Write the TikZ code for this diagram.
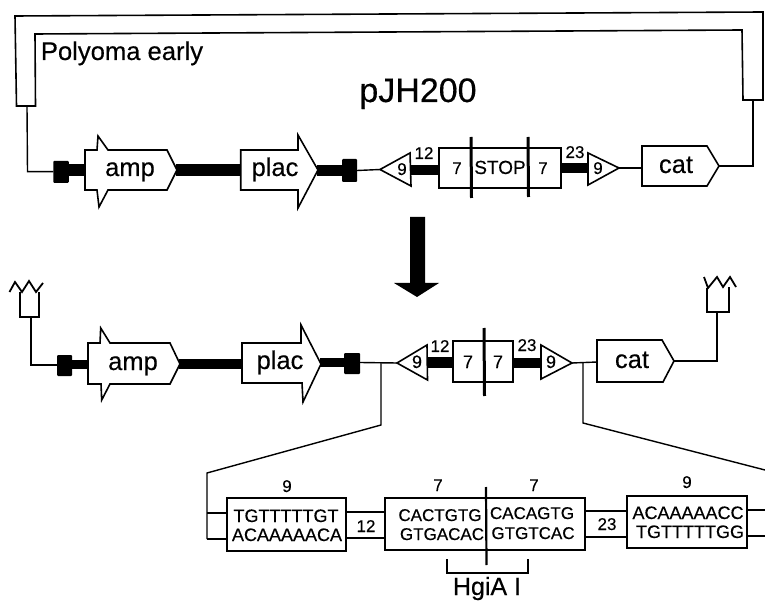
\documentclass[tikz,border=0pt]{standalone}
\usepackage{fontspec}
\setmainfont[FakeBold=0.35]{Liberation Sans}
\newcommand{\lab}[5]{\node[txt,font=\fontsize{#4}{#4}\selectfont] (#1) at (#2,#3) {#5};}
\tikzset{
  line/.style={line width=1.4pt,line join=miter},
  shp/.style={line width=1.6pt,fill=white,line join=miter},
  bar/.style={line width=#1,black},
  cut/.style={line width=3pt},
  txt/.style={anchor=base,inner sep=0pt,outer sep=0pt,text=black},
  bx/.style={draw,fill=white,line width=1.6pt,inner sep=0pt,outer sep=0pt},
  sq/.style={draw=none,fill=black,inner sep=0pt,outer sep=0pt,rounded corners=1pt},
}
\begin{document}
\begin{tikzpicture}[x=1pt,y=-1pt]
\useasboundingbox (0,0) rectangle (765,601);
% --- named ends
\coordinate (pyL) at (27,106); \coordinate (pyLd) at (27.5,171.7);
\coordinate (pyR) at (753,100); \coordinate (catTr) at (753,166);
\coordinate (a1w) at (86,170.5); \coordinate (a1e) at (176,169.6);
\coordinate (p1w) at (241,169.6); \coordinate (p1e) at (317,170.5);
\coordinate (t1a) at (380,169.5); \coordinate (t1b) at (410,170);
\coordinate (t2a) at (588,168); \coordinate (t2b) at (619,168);
\coordinate (c1w) at (642,168); \coordinate (c1e) at (719,166);
\coordinate (a2w) at (89,364.5); \coordinate (a2e) at (179,364);
\coordinate (p2w) at (243,364); \coordinate (p2e) at (320,362.5);
\coordinate (t3a) at (397,363); \coordinate (t3b) at (427,362.5);
\coordinate (t4a) at (541,363); \coordinate (t4b) at (572,363);
\coordinate (c2w) at (597,362); \coordinate (c2e) at (674,361);
\coordinate (crL) at (31,317); \coordinate (crLd) at (31,365);
\coordinate (crR) at (717,312); \coordinate (crRd) at (717,361);
\coordinate (dl0) at (381,363); \coordinate (dl1) at (381,425); \coordinate (dl2) at (207,473);
\coordinate (dlb1) at (207,513); \coordinate (dlb2) at (207,539);
\coordinate (dr0) at (583,362); \coordinate (dr1) at (583,423); \coordinate (dr2) at (765,470);
\coordinate (er1) at (765,510); \coordinate (er2) at (765,536);
% --- boxes and squares
\node[sq,minimum width=15.5pt,minimum height=22pt] (s1) at (61,172) {};
\node[sq,minimum width=15pt,minimum height=23pt] (s2) at (349.5,170.5) {};
\node[sq,minimum width=15pt,minimum height=21pt] (s3) at (64.5,365.5) {};
\node[sq,minimum width=16pt,minimum height=21pt] (s4) at (352,363.5) {};
% --- thick bars
\draw[bar=12pt] (s1.center |- a1w) -- (a1w);
\draw[bar=12pt] (a1e) -- (p1w);
\draw[bar=11pt] (p1e) -- (s2.center |- p1e);
\draw[bar=9pt] (s3.center |- a2w) -- (a2w);
\draw[bar=10pt] (a2e) -- (p2w);
\draw[bar=9pt] (p2e) -- (s4.center |- p2e);
% --- thin connectors
\draw[line] (pyL) -- (pyLd) -- (s1.west |- pyLd);
\draw[line] (s2.east |- p1e) -- (t1a);
\draw[line] (t2b) -- (c1w);
\draw[line] (c1e) -- (catTr) -- (pyR);
\draw[line] (crL) -- (crLd) -- (s3.west |- crLd);
\draw[line] (s4.east |- p2e) -- (t3a);
\draw[line] (dl0) -- (dl1) -- (dl2) -- (dlb2);
\draw[line] (t4b) -- (c2w);
\draw[line] (dr0) -- (dr1) -- (dr2);
\draw[line] (c2e) -- (crRd) -- (crR);
% --- Polyoma early bracket
\draw[shp,fill=none] (16.5,106) -- (15,16) -- (763,12) -- (763,100) -- (743,100) -- (742,30) -- (35,34) -- (35.5,106) -- cycle;
% --- top row shapes
\draw[shp] (85,150) -- (97,150) -- (98,136) -- (108,150) -- (167,150) -- (177,170) -- (167,190) -- (108,190) -- (99,207) -- (97,190) -- (85,190) -- cycle;
\draw[shp] (240.7,150) -- (298,150) -- (298,135) -- (318,170) -- (298,208) -- (298,190) -- (240.7,190) -- cycle;
\draw[shp] (t1a) -- (410,153) -- (411,186) -- cycle;
\draw[shp] (t2a |- 0,153) -- (t2b) -- (t2a |- 0,185) -- cycle;
\draw[shp] (642,146) -- (707,146) -- (719,166) -- (707,186) -- (642,186) -- cycle;
% --- second row shapes
\draw[shp] (88,343) -- (100,343) -- (100.7,328) -- (110,343) -- (170,343) -- (180,364) -- (170,384) -- (110,384) -- (101.7,400) -- (101,384) -- (88,384) -- cycle;
\draw[shp] (242,343) -- (301,343) -- (301,325) -- (321,364) -- (303,402) -- (302,383) -- (242,383) -- cycle;
\draw[shp] (t3a) -- (427,345) -- (427.5,380) -- cycle;
\draw[shp] (t4a |- 0,345) -- (t4b) -- (t4a |- 0,379) -- cycle;
\draw[shp] (597,340) -- (662,340) -- (674,361) -- (663,382) -- (597,382) -- cycle;
% --- central boxes
\node[bx,minimum width=122pt,minimum height=40pt] (stopbox) at (500,168) {};
\node[bx,minimum width=60pt,minimum height=41pt] (sevens) at (483,361.5) {};
\draw[bar=10pt] (t1b) -- (stopbox.west |- t1b);
\draw[bar=10pt] (stopbox.east |- t2a) -- (t2a);
\draw[bar=11pt] (t3b) -- (sevens.west |- t3b);
\draw[bar=10pt] (sevens.east |- t4a) -- (t4a);
\draw[cut] (471,137) -- (471.5,198);
\draw[cut] (528,137) -- (528.5,197);
\draw[cut] (484,328) -- (484.5,396);
% --- crowns
\draw[line,fill=white] (20,292) -- (20,317) -- (39,317) -- (39,292);
\draw[line,line width=1.8pt] (9.5,292) -- (15,282) -- (22,292) -- (29,281) -- (36,292) -- (43,283);
\draw[line,fill=white] (707,288) -- (707,312) -- (729,312) -- (729,287);
\draw[line,line width=1.8pt] (704,277) -- (708,288) -- (717,277) -- (723,287) -- (730,277) -- (736,287);
% --- big arrow
\fill[black] (410,217) -- (425,217) -- (425,283) -- (439,283) -- (417,297) -- (394,283) -- (410,283) -- cycle;
% --- bottom row
\node[bx,minimum width=119pt,minimum height=53pt] (b1) at (286.5,524.5) {};
\node[bx,minimum width=200pt,minimum height=52pt] (b2) at (485,524) {};
\node[bx,minimum width=120pt,minimum height=52pt] (b3) at (687,522) {};
\draw[line] (dlb1) -- (b1.west |- dlb1);
\draw[line] (dlb2) -- (b1.west |- dlb2);
\draw[line] (b1.east |- 0,512) -- (b2.west |- 0,512);
\draw[line] (b1.east |- 0,538) -- (b2.west |- 0,538);
\draw[line] (b2.east |- 0,511) -- (b3.west |- 0,511);
\draw[line] (b2.east |- 0,537) -- (b3.west |- 0,537);
\draw[line] (b3.east |- er1) -- (er1);
\draw[line] (b3.east |- er2) -- (er2);
\draw[line width=2.2pt] (486,487) -- (486.5,565);
\draw[line] (447,559) -- (447,573) -- (528,573) -- (528,559);
% --- text
\lab{tpoly}{122}{60}{25.6}{Polyoma early}
\lab{tjh}{418}{102}{34}{pJH200}
\lab{tamp1}{130}{176}{25.5}{amp}
\lab{tplac1}{275}{176}{25.5}{plac}
\lab{tn91}{402}{175}{17}{9}
\lab{tn121}{424}{159}{17}{12}
\lab{tn71}{457}{174}{17}{7}
\lab{tstop}{500}{174}{19}{STOP}
\lab{tn72}{543}{174}{17}{7}
\lab{tn231}{575}{158}{17}{23}
\lab{tn92}{598}{174}{17}{9}
\lab{tcat1}{676}{173}{25.5}{cat}
\lab{tamp2}{133}{370}{25.5}{amp}
\lab{tplac2}{280}{369}{25.5}{plac}
\lab{tn93}{417}{368}{18}{9}
\lab{tn122}{440}{352}{17}{12}
\lab{tn73}{468}{368}{18}{7}
\lab{tn74}{498}{368}{18}{7}
\lab{tn232}{527}{351}{17}{23}
\lab{tn94}{551}{368}{18}{9}
\lab{tcat2}{632}{368}{25.5}{cat}
\lab{tb9a}{287}{492}{17}{9}
\lab{tseqa}{286}{522}{18}{TGTTTTTGT}
\lab{tseqb}{287}{541}{18}{ACAAAAACA}
\lab{tb12}{366}{532}{17}{12}
\lab{tb7a}{438}{491}{17}{7}
\lab{tb7b}{534}{491}{17}{7}
\lab{tseqc}{440}{521}{17}{CACTGTG}
\lab{tseqd}{442}{540}{17}{GTGACAC}
\lab{tseqe}{532}{519}{17}{CACAGTG}
\lab{tseqf}{533}{539}{17}{GTGTCAC}
\lab{tb23}{607}{530}{17}{23}
\lab{tb9b}{687}{488}{17}{9}
\lab{tseqg}{688}{519}{18}{ACAAAAACC}
\lab{tseqh}{690}{538}{18}{TGTTTTTGG}
\lab{thgi}{487}{595}{25}{HgiA I}
\end{tikzpicture}
\end{document}
